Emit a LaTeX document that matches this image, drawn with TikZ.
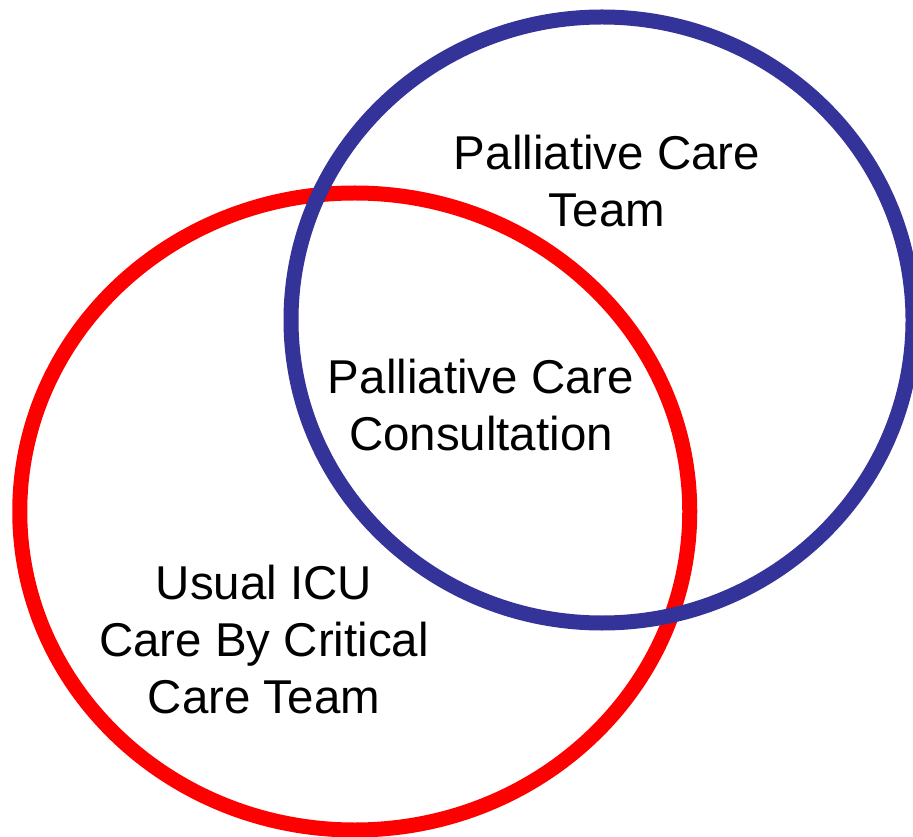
\documentclass[tikz,border=0pt]{standalone}
\usepackage{fontspec}
\setmainfont{Liberation Sans}
\usepackage{tikz}
\usetikzlibrary{positioning}

\definecolor{teamblue}{RGB}{51,51,153}
\definecolor{icured}{RGB}{255,0,0}

\begin{document}
\begin{tikzpicture}[x=0.75pt, y=-0.75pt,
    ring/.style={line width=11.25pt},
    label/.style={align=center, inner sep=0pt, font=\fontsize{35.6}{42.75}\selectfont}]
    \useasboundingbox (0,0) rectangle (913,837);

    % The two overlapping care circles (red first, blue on top)
    \draw[ring, icured] (354.75,511.5) ellipse [x radius=335, y radius=318.5];
    \draw[ring, teamblue] (602,320) ellipse [x radius=311, y radius=303];

    % Labels for each region
    \node (team) [label] at (607,181.5) {Palliative Care\\Team};
    \node (consult) [label] at (481,405.5) {Palliative Care\\Consultation};
    \node (usual) [label] at (264,640) {Usual ICU\\Care By Critical\\Care Team};
\end{tikzpicture}
\end{document}
